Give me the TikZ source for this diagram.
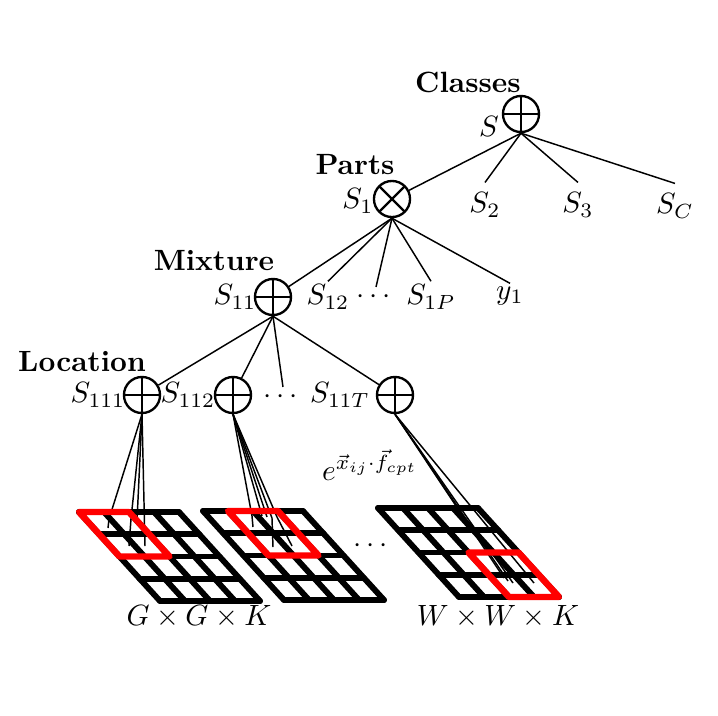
\documentclass[tikz,border=0pt]{standalone}
\usepackage{amsmath}
\newcommand\pgridd[4]{%
  \foreach \i in {0,...,4}{
    \draw[gridln] ({#1+\i*20.25},{#2+\i*22.25}) -- ++(100,0);
    \draw[gridln] ({#1+\i*25},#2) -- ++(81,89);
  }
  \draw[redln] ({#1+#3*25+#4*20.25},{#2+#4*22.25}) -- ++(50,0) -- ++(40.5,44.5) -- ++(-50,0) -- cycle;
}
\begin{document}
\begin{tikzpicture}[x=0.341pt,y=-0.341pt,
  sumnode/.style={circle,draw,line width=0.8pt,minimum size=12.3pt,inner sep=0pt,
     path picture={\draw[line width=0.8pt] (path picture bounding box.north) -- (path picture bounding box.south) (path picture bounding box.west) -- (path picture bounding box.east);}},
  prodnode/.style={circle,draw,line width=0.8pt,minimum size=12.3pt,inner sep=0pt,
     path picture={\draw[line width=0.8pt] (path picture bounding box.north west) -- (path picture bounding box.south east) (path picture bounding box.south west) -- (path picture bounding box.north east);}},
  title/.style={font=\bfseries},
  lbl/.style={inner sep=1pt},
  edge/.style={line width=0.5pt},
  gridln/.style={line width=2pt,line cap=round},
  redln/.style={line width=2.2pt,red,line join=round}]
\useasboundingbox (0,0) rectangle (718,716);
% level 0
\node[title] (tcls) at (468,82) {Classes};
\node[sumnode] (root) at (521,114) {};
\node (lS) at (489,126) {$S$};
% level 1
\node[title] (tparts) at (355,165) {Parts};
\node[prodnode] (s1) at (392,199) {};
\node (lS1) at (358,201) {$S_1$};
\node (s2) at (485,205) {$S_2$};
\node (s3) at (578,205) {$S_3$};
\node (sc) at (675,206) {$S_C$};
\draw[edge] (root.south) -- (s1);
\draw[edge] (root.south) -- (s2.north);
\draw[edge] (root.south) -- (s3.north);
\draw[edge] (root.south) -- (sc.north);
% level 2
\node[title] (tmix) at (214,261) {Mixture};
\node[sumnode] (s11) at (273,297) {};
\node (lS11) at (235,297) {$S_{11}$};
\node[lbl] (s12) at (328,297) {$S_{12}$};
\node[lbl] (d1) at (376,297) {$\cdots$};
\node[lbl] (s1p) at (431,297) {$S_{1P}$};
\node[lbl] (y1) at (510,296) {$y_1$};
\draw[edge] (s1.south) -- (s11);
\draw[edge] (s1.south) -- (s12.north);
\draw[edge] (s1.south) -- (d1.north);
\draw[edge] (s1.south) -- (s1p.north);
\draw[edge] (s1.south) -- (y1.north);
% level 3
\node[title] (tloc) at (82,362) {Location};
\node[sumnode] (s111) at (142,395) {};
\node (lS111) at (98,395) {$S_{111}$};
\node[sumnode] (s112) at (233,395) {};
\node (lS112) at (188,395) {$S_{112}$};
\node[lbl] (d2) at (283,397) {$\cdots$};
\node (lS11T) at (340,395) {$S_{11T}$};
\node[sumnode] (s11t) at (395,395) {};
\draw[edge] (s11.south) -- (s111);
\draw[edge] (s11.south) -- (s112);
\draw[edge] (s11.south) -- (d2.north);
\draw[edge] (s11.south) -- (s11t);
% grid connection points
\coordinate (a1) at (109,519);
\coordinate (a2) at (131,519);
\coordinate (a3) at (137,521);
\coordinate (a4) at (145,546);
\coordinate (b1) at (252,516);
\coordinate (b2) at (262,516);
\coordinate (b3) at (267,517);
\coordinate (b4) at (272,518);
\coordinate (b5) at (277,517);
\coordinate (c1) at (504,578);
\coordinate (c2) at (508,581);
\coordinate (c3) at (513,583);
\coordinate (c4) at (534,583);
\foreach \p in {a1,a2,a3,a4}{\draw[edge] (s111.south) -- (\p);}
\foreach \p in {b1,b2,b3,b4,b5}{\draw[edge] (s112.south) -- (\p);}
\foreach \p in {c1,c2,c3,c4}{\draw[edge] (s11t.south) -- (\p);}
% grids
\pgridd{79}{512}{0}{0}
\pgridd{203}{511}{1}{0}
\pgridd{378}{508}{2}{2}
% small ticks
\draw[edge] (a1) -- ++(-1,9);
\draw[edge] (a2) -- ++(-2,27);
\draw[edge] (b1) -- ++(1,11);
\draw[edge] (b4) -- ++(1,29);
\draw[edge] (b5) -- ++(15,29);
\node (d3) at (373,546) {$\cdots$};
\node (elbl) at (370,465) {$e^{\vec{x}_{ij}\cdot\vec{f}_{cpt}}$};
\node (gk) at (199,617) {$G\times G\times K$};
\node (wk) at (498,617) {$W\times W\times K$};
\end{tikzpicture}
\end{document}
